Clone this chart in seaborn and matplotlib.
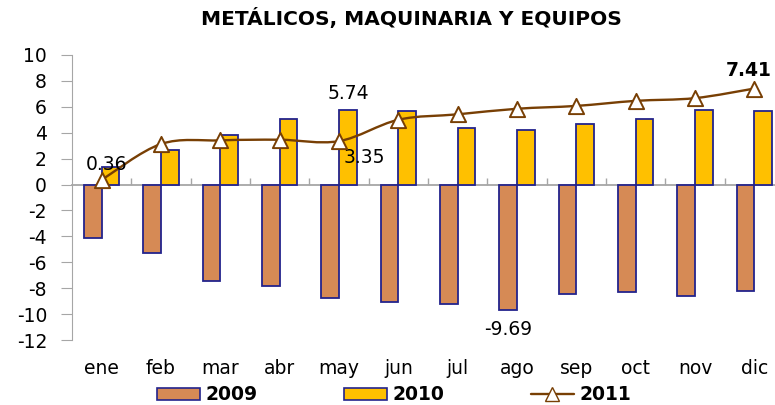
import numpy as np
import pandas as pd
import matplotlib
matplotlib.use("Agg")
import matplotlib.pyplot as plt
import seaborn as sns
from matplotlib.path import Path
from matplotlib.patches import PathPatch, Patch
from matplotlib.lines import Line2D

# data
months = ["ene", "feb", "mar", "abr", "may", "jun", "jul", "ago", "sep", "oct", "nov", "dic"]
v2009 = [-4.14, -5.32, -7.48, -7.84, -8.74, -9.10, -9.20, -9.69, -8.46, -8.30, -8.64, -8.20]
v2010 = [1.33, 2.70, 3.85, 5.03, 5.74, 5.64, 4.38, 4.20, 4.67, 5.03, 5.72, 5.64]
v2011 = [0.36, 3.13, 3.41, 3.46, 3.35, 5.00, 5.42, 5.85, 6.07, 6.46, 6.67, 7.41]
yticks = list(range(-12, 11, 2))

c2009 = "#D68A55"
c2010 = "#FFC000"
c2011 = "#783F04"
edge = "#23238C"
grey = "#A6A6A6"

df = pd.DataFrame({
    "mes": months * 2,
    "anio": ["2009"] * 12 + ["2010"] * 12,
    "valor": v2009 + v2010,
})

sns.set_style("white")
plt.rcParams["font.family"] = ["DejaVu Sans"]
plt.rcParams["axes.unicode_minus"] = False
plt.rcParams["text.color"] = "black"
plt.rcParams["xtick.color"] = "black"
plt.rcParams["ytick.color"] = "black"

fig = plt.figure(figsize=(7.75, 4.05), dpi=100)
ax = fig.add_axes([72 / 775, 1 - 340 / 405, 712 / 775, 285 / 405])

sns.barplot(data=df, x="mes", y="valor", hue="anio", order=months,
            palette={"2009": c2009, "2010": c2010}, width=0.6, gap=0, saturation=1,
            edgecolor=edge, linewidth=1.3, legend=False, ax=ax, zorder=2)

# smoothed line for 2011 (bezier through the data points, like excel's smoothing)
xs = np.arange(len(months), dtype=float)
pts = np.column_stack([xs, v2011])
ext = np.vstack([pts[0], pts, pts[-1]])
verts = [tuple(pts[0])]
codes = [Path.MOVETO]
for i in range(len(pts) - 1):
    p0, p1, p2, p3 = ext[i], ext[i + 1], ext[i + 2], ext[i + 3]
    verts += [tuple(p1 + (p2 - p0) / 6), tuple(p2 - (p3 - p1) / 6), tuple(p2)]
    codes += [Path.CURVE4] * 3
ax.add_patch(PathPatch(Path(verts, codes), facecolor="none", edgecolor=c2011, lw=1.7, zorder=3))
sns.scatterplot(x=xs, y=v2011, marker="^", s=120, color="white", edgecolor=c2011,
                linewidth=1.4, zorder=4, ax=ax)

ax.set_xlim(-0.5, 11.5)
ax.set_ylim(-12, 10)
ax.set_yticks(yticks)
ax.set_xlabel("")
ax.set_ylabel("")
for s in ["top", "right", "bottom"]:
    ax.spines[s].set_visible(False)
ax.spines["left"].set_color(grey)
ax.tick_params(axis="y", length=8, color=grey, labelcolor="black", labelsize=13.5, pad=10, left=True)
ax.tick_params(axis="x", length=0, labelcolor="black", labelsize=13.5, pad=14)

# zero axis with separators between months (ticks pointing up)
zero = ax.secondary_xaxis(12 / 22)
zero.set_xticks(np.arange(0.5, 11, 1))
zero.set_xticklabels([])
for s in ["top", "bottom"]:
    zero.spines[s].set_color(grey)
    zero.spines[s].set_linewidth(1.3)
zero.tick_params(direction="out", length=5, width=1, color=grey)

# data labels
ax.annotate("0.36", (0, v2011[0]), xytext=(5, 15), textcoords="offset pixels",
            ha="center", va="center", fontsize=13.5)
ax.annotate("3.35", (4, v2011[4]), xytext=(25, -16), textcoords="offset pixels",
            ha="center", va="center", fontsize=13.5)
ax.annotate("5.74", (4.15, v2010[4]), xytext=(0, 17), textcoords="offset pixels",
            ha="center", va="center", fontsize=13.5)
ax.annotate("-9.69", (6.85, v2009[7]), xytext=(0, -19), textcoords="offset pixels",
            ha="center", va="center", fontsize=13.5)
ax.annotate("7.41", (11, v2011[11]), xytext=(-6, 18), textcoords="offset pixels",
            ha="center", va="center", fontsize=13.5, fontweight="bold")

fig.text(411 / 775, 1 - 18 / 405, "METÁLICOS, MAQUINARIA Y EQUIPOS",
         ha="center", va="center", fontsize=14.5, fontweight="bold")

handles = [
    Patch(facecolor=c2009, edgecolor=edge, linewidth=1.2),
    Patch(facecolor=c2010, edgecolor=edge, linewidth=1.2),
    Line2D([], [], color=c2011, lw=1.7, marker="^", markersize=10,
           markerfacecolor="white", markeredgecolor=c2011),
]
fig.legend(handles, ["2009", "2010", "2011"], ncol=3, loc="center",
           bbox_to_anchor=(394 / 775, 1 - 395 / 405), frameon=False,
           prop={"weight": "bold", "size": 13.5}, handlelength=2.3,
           handleheight=0.6, handletextpad=0.3, columnspacing=4.6)

fig.savefig("out.png", dpi=100)
